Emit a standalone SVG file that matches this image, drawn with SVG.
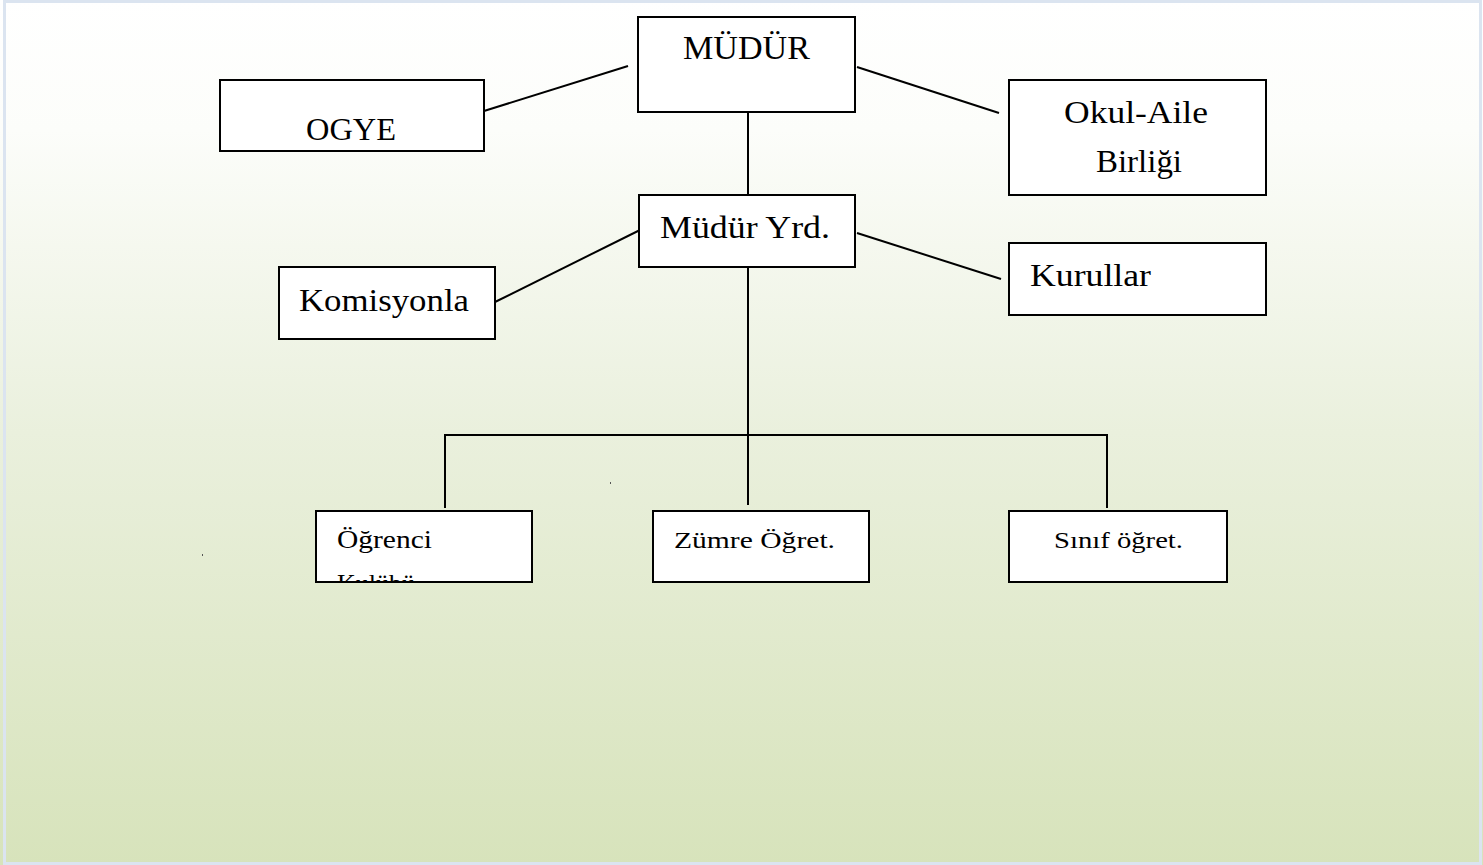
<svg xmlns="http://www.w3.org/2000/svg" width="1483" height="865" viewBox="0 0 1483 865">
<defs>
<linearGradient id="bg" x1="0" y1="0" x2="0" y2="1">
<stop offset="0" stop-color="#ffffff"/>
<stop offset="0.15" stop-color="#fcfdfa"/>
<stop offset="0.5" stop-color="#eaf0dd"/>
<stop offset="1" stop-color="#d7e3bb"/>
</linearGradient>
<clipPath id="clipOg"><rect x="317" y="512" width="214" height="69"/></clipPath>
<style>
.box{fill:#ffffff;stroke:#000000;stroke-width:2}
.ln{stroke:#000000;stroke-width:2;fill:none}
.t{font-family:"Liberation Serif","DejaVu Serif",serif;fill:#000000}
</style>
</defs>
<rect x="0" y="0" width="1483" height="865" fill="url(#bg)"/>
<rect x="4.5" y="1.5" width="1476" height="862" fill="none" stroke="#dbe4f0" stroke-width="3"/>
<rect x="202" y="554" width="1" height="2" fill="#555"/>
<rect x="610" y="482" width="1" height="2" fill="#555"/>
<g id="connectors">
<line class="ln" x1="484" y1="111" x2="628" y2="66"/>
<line class="ln" x1="857" y1="67" x2="999" y2="113"/>
<line class="ln" x1="748" y1="112" x2="748" y2="195"/>
<line class="ln" x1="495" y1="302" x2="640" y2="230"/>
<line class="ln" x1="857" y1="233" x2="1001" y2="279"/>
<line class="ln" x1="748" y1="267" x2="748" y2="505"/>
<polyline class="ln" points="445,508 445,435 1107,435 1107,508"/>
</g>
<g id="mudur">
<rect class="box" x="638" y="17" width="217" height="95"/>
<text class="t" x="683" y="59" font-size="33" textLength="127" lengthAdjust="spacingAndGlyphs">MÜDÜR</text>
</g>
<g id="ogye">
<rect class="box" x="220" y="80" width="264" height="71"/>
<text class="t" x="306" y="140" font-size="32" textLength="90" lengthAdjust="spacingAndGlyphs">OGYE</text>
</g>
<g id="okul-aile">
<rect class="box" x="1009" y="80" width="257" height="115"/>
<text class="t" x="1064" y="123" font-size="31" textLength="144" lengthAdjust="spacingAndGlyphs">Okul-Aile</text>
<text class="t" x="1096" y="172" font-size="31" textLength="86" lengthAdjust="spacingAndGlyphs">Birliği</text>
</g>
<g id="mudur-yrd">
<rect class="box" x="639" y="195" width="216" height="72"/>
<text class="t" x="660" y="238" font-size="31" textLength="170" lengthAdjust="spacingAndGlyphs">Müdür Yrd.</text>
</g>
<g id="komisyonla">
<rect class="box" x="279" y="267" width="216" height="72"/>
<text class="t" x="299" y="311" font-size="31" textLength="170" lengthAdjust="spacingAndGlyphs">Komisyonla</text>
</g>
<g id="kurullar">
<rect class="box" x="1009" y="243" width="257" height="72"/>
<text class="t" x="1030" y="286" font-size="31" textLength="121" lengthAdjust="spacingAndGlyphs">Kurullar</text>
</g>
<g id="ogrenci">
<rect class="box" x="316" y="511" width="216" height="71"/>
<g clip-path="url(#clipOg)">
<text class="t" x="337" y="548" font-size="26" textLength="95" lengthAdjust="spacingAndGlyphs">Öğrenci</text>
<text class="t" x="337" y="592" font-size="26">Kulübü</text>
</g>
</g>
<g id="zumre">
<rect class="box" x="653" y="511" width="216" height="71"/>
<text class="t" x="674" y="548" font-size="24" textLength="161" lengthAdjust="spacingAndGlyphs">Zümre Öğret.</text>
</g>
<g id="sinif">
<rect class="box" x="1009" y="511" width="218" height="71"/>
<text class="t" x="1054" y="548" font-size="23" textLength="129" lengthAdjust="spacingAndGlyphs">Sınıf öğret.</text>
</g>
</svg>
